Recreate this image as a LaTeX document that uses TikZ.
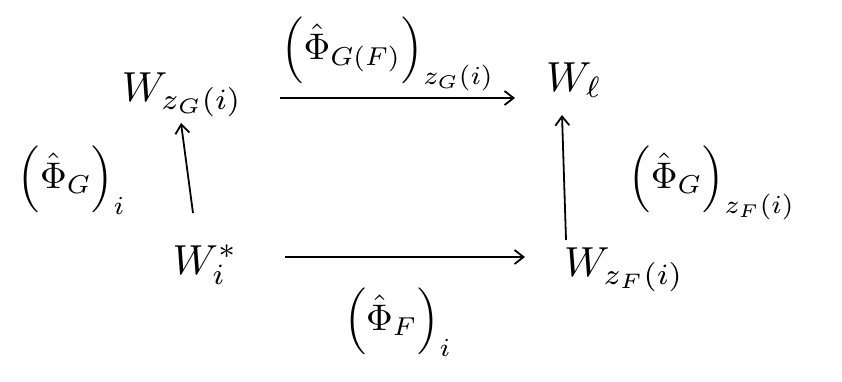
\documentclass[tikz,border=0pt]{standalone}
\usepackage{graphicx}
\usetikzlibrary{arrows.meta}
\newcommand{\objsz}[1]{\scalebox{4.2}{#1}}
\newcommand{\labsz}[1]{\scalebox{3.7}{#1}}
\begin{document}
\begin{tikzpicture}[x=1pt,y=-1pt,
  obj/.style={inner sep=2pt},
  lab/.style={inner sep=1pt},
  map/.style={-{Straight Barb[length=9pt,width=14pt]},line width=1.8pt}]
\useasboundingbox (0,0) rectangle (842,381);
\node[obj] (Wi) at (205,265) {\objsz{$W_i^{*}$}};
\node[obj] (Wg) at (182,95) {\objsz{$W_{z_G(i)}$}};
\node[obj] (Wl) at (574,80) {\objsz{$W_{\ell}$}};
\node[obj] (Wf) at (624,270) {\objsz{$W_{z_F(i)}$}};
\coordinate (b1) at (285,257);
\coordinate (b2) at (525,257);
\coordinate (l1) at (193,213);
\coordinate (l2) at (181,123);
\coordinate (t1) at (280,98);
\coordinate (t2) at (515,98);
\coordinate (r1) at (566,240);
\coordinate (r2) at (562,115);
\draw[map] (b1) -- (b2);
\draw[map] (l1) -- (l2);
\draw[map] (t1) -- (t2);
\draw[map] (r1) -- (r2);
\node[lab] (lb) at (398,322) {\labsz{$\left(\hat{\Phi}_F\right)_i$}};
\node[lab] (ll) at (72,180) {\labsz{$\left(\hat{\Phi}_G\right)_i$}};
\node[lab] (lt) at (388,54) {\labsz{$\left(\hat{\Phi}_{G(F)}\right)_{z_G(i)}$}};
\node[lab] (lr) at (712,183) {\labsz{$\left(\hat{\Phi}_G\right)_{z_F(i)}$}};
\end{tikzpicture}
\end{document}
